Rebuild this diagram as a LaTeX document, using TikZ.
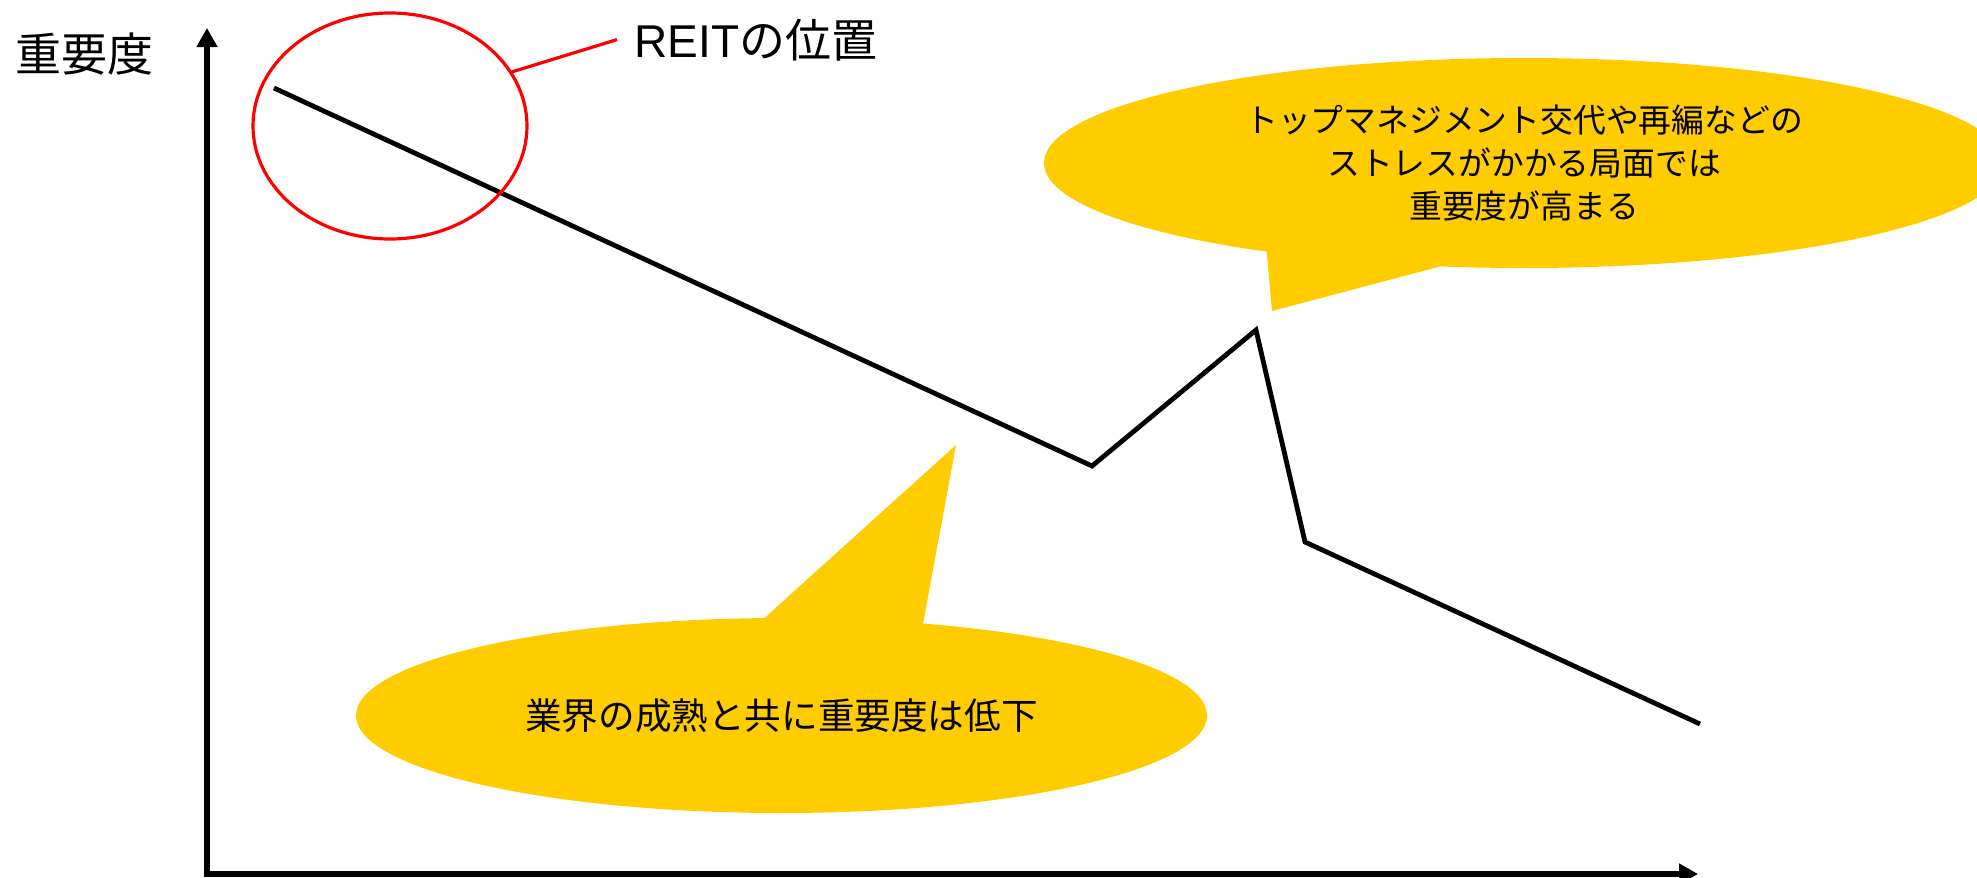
\documentclass[tikz,border=0pt]{standalone}
\usepackage{fontspec}
\setmainfont{Liberation Sans}
\newfontfamily\jp{Noto Sans CJK JP}
\usetikzlibrary{arrows.meta,shapes.geometric,backgrounds}
\definecolor{calloutyellow}{HTML}{FFCC00}
\definecolor{reitred}{HTML}{FF0000}
\tikzset{
  axisline/.style={line width=3pt,{Triangle[length=9.5pt,width=10pt]}-{Triangle[length=9.5pt,width=10pt]}},
  trendline/.style={line width=2.4pt,black},
  reitmark/.style={ellipse,draw=reitred,line width=1.6pt,inner sep=0pt,outer sep=0pt,minimum width=137pt,minimum height=113pt},
  reitlink/.style={draw=reitred,line width=1.6pt},
  bubble/.style={ellipse,fill=calloutyellow,inner sep=0pt,outer sep=0pt,align=center},
  bubbletail/.style={fill=calloutyellow},
  bigtext/.style={font=\fontsize{23pt}{27pt}\selectfont,inner sep=0pt},
}
\begin{document}
\begin{tikzpicture}[x=0.5pt,y=-0.5pt]
\useasboundingbox (0,0) rectangle (1977,878);

% axes
\coordinate (origin) at (207,874);
\coordinate (ytip) at (207,28);
\coordinate (xtip) at (1698,874);
\draw[axisline] (ytip) -- (origin) -- (xtip);
\node[bigtext] (ylab) at (85,54) {\jp 重要度};

% callout bubbles
\node[bubble,minimum width=480pt,minimum height=105pt,
      font=\fontsize{16.4pt}{21.5pt}\selectfont\jp] (stress) at (1524,163)
  {トップマネジメント交代や再編などの\\ストレスがかかる局面では\\重要度が高まる};
\coordinate (stresstip) at (1272,311);
\node[bubble,minimum width=425.5pt,minimum height=97.5pt,
      font=\fontsize{18.3pt}{22pt}\selectfont\jp] (mature) at (781.5,715.5)
  {業界の成熟と共に重要度は低下};
\coordinate (maturetip) at (956,445);
\begin{scope}[on background layer]
  \fill[bubbletail] (stress.199) -- (stresstip) -- (stress.231) -- (stress.center) -- cycle;
  \fill[bubbletail] (mature.100.7) -- (maturetip) -- (mature.33) -- (mature.center) -- cycle;
\end{scope}

% trend line
\coordinate (p1) at (274,88);
\coordinate (p2) at (1092,466);
\coordinate (p3) at (1256,330);
\coordinate (p4) at (1305,542);
\coordinate (p5) at (1700,724);
\draw[trendline] (p1) -- (p2) -- (p3) -- (p4) -- (p5);

% REIT marker
\node[reitmark] (reit) at (390,126) {};
\node[bigtext,anchor=base west,inner xsep=8.5pt] (reitlabel) at (617,57) {REIT{\jp の位置}};
\draw[reitlink] (reit.24) -- (reitlabel.west);
\end{tikzpicture}
\end{document}
